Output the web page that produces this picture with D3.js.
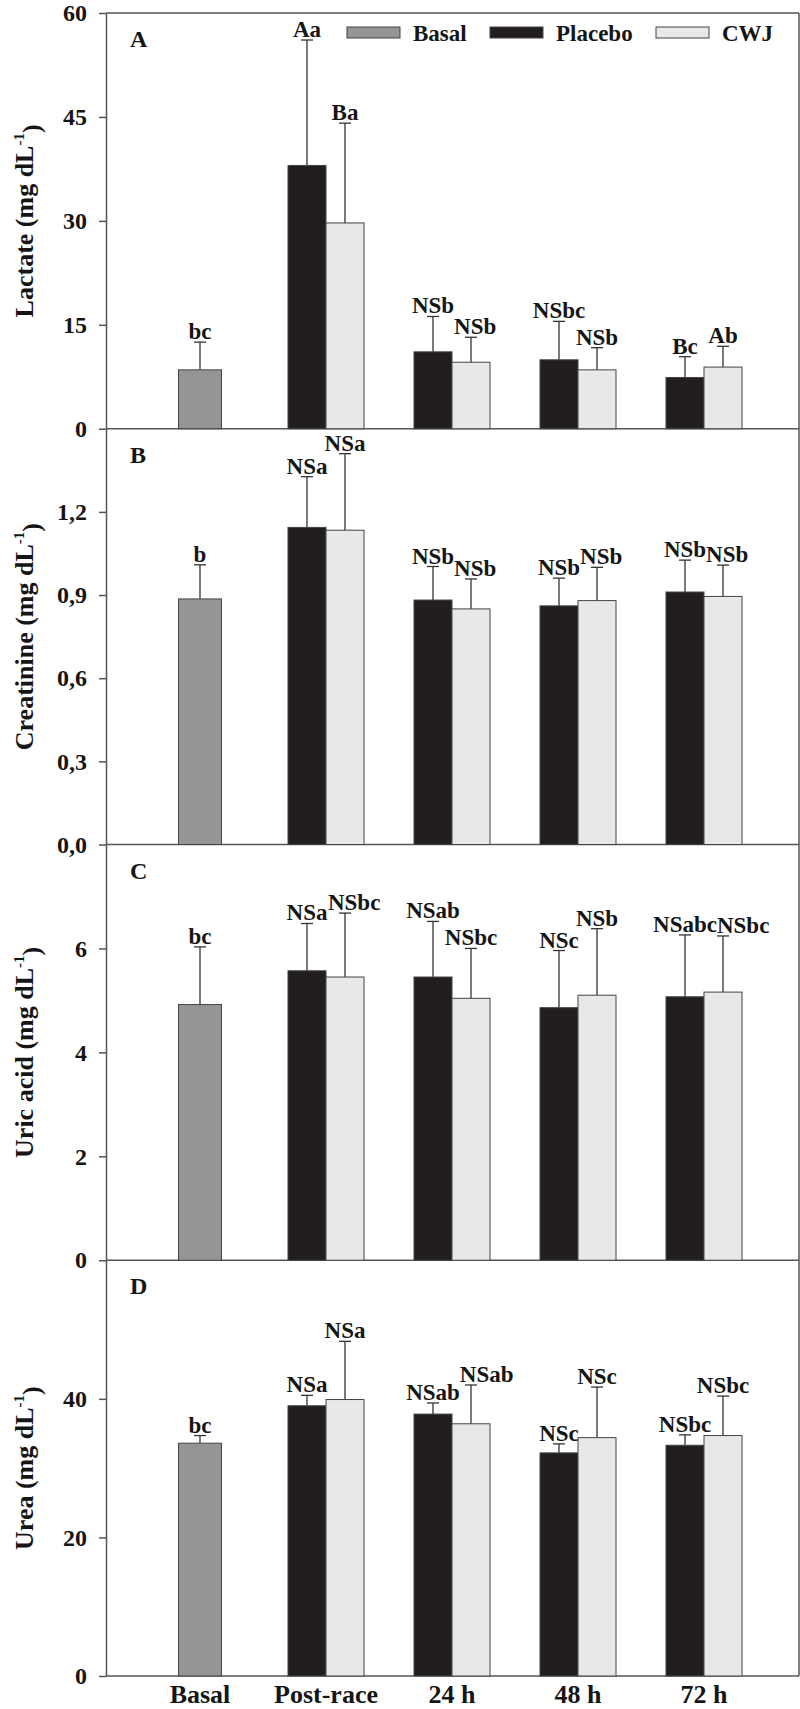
<!DOCTYPE html>
<html>
<head>
<meta charset="utf-8">
<script src="https://cdn.jsdelivr.net/npm/d3@7"></script>
<style>
  body { margin: 0; background: #fff; }
  text { font-family: "Liberation Serif", "Times New Roman", serif; font-weight: bold; fill: #151515; }
</style>
</head>
<body>
<div id="drawArea"></div>
<script>
// categories along x
var categories = ["Basal", "Post-race", "24 h", "48 h", "72 h"];
var groups = ["Post-race", "24 h", "48 h", "72 h"];
var legendNames = ["Basal", "Placebo", "CWJ"];

// panel A - lactate
var lactateBasal = 8.5, lactateBasalSd = 4.0, lactateBasalLab = "bc";
var lactatePlacebo = [38.0, 11.1, 9.95, 7.4];
var lactatePlaceboSd = [18.1, 5.1, 5.55, 3.0];
var lactatePlaceboLab = ["Aa", "NSb", "NSbc", "Bc"];
var lactateCwj = [29.7, 9.6, 8.5, 8.9];
var lactateCwjSd = [14.4, 3.6, 3.2, 3.0];
var lactateCwjLab = ["Ba", "NSb", "NSb", "Ab"];
var lactateTicks = [0, 15, 30, 45, 60];

// panel B - creatinine
var creatBasal = 0.886, creatBasalSd = 0.123, creatBasalLab = "b";
var creatPlacebo = [1.144, 0.882, 0.861, 0.911];
var creatPlaceboSd = [0.183, 0.121, 0.100, 0.115];
var creatPlaceboLab = ["NSa", "NSb", "NSb", "NSb"];
var creatCwj = [1.134, 0.85, 0.88, 0.895];
var creatCwjSd = [0.276, 0.108, 0.12, 0.113];
var creatCwjLab = ["NSa", "NSb", "NSb", "NSb"];
var creatTicks = [0, 0.3, 0.6, 0.9, 1.2];

// panel C - uric acid
var uricBasal = 4.92, uricBasalSd = 1.11, uricBasalLab = "bc";
var uricPlacebo = [5.57, 5.45, 4.86, 5.07];
var uricPlaceboSd = [0.91, 1.07, 1.10, 1.19];
var uricPlaceboLab = ["NSa", "NSab", "NSc", "NSabc"];
var uricCwj = [5.45, 5.04, 5.10, 5.16];
var uricCwjSd = [1.23, 0.96, 1.28, 1.08];
var uricCwjLab = ["NSbc", "NSbc", "NSb", "NSbc"];
var uricTicks = [0, 2, 4, 6];

// panel D - urea
var ureaBasal = 33.6, ureaBasalSd = 1.1, ureaBasalLab = "bc";
var ureaPlacebo = [39.0, 37.8, 32.2, 33.3];
var ureaPlaceboSd = [1.5, 1.6, 1.3, 1.5];
var ureaPlaceboLab = ["NSa", "NSab", "NSc", "NSbc"];
var ureaCwj = [39.9, 36.4, 34.4, 34.7];
var ureaCwjSd = [8.4, 5.6, 7.3, 5.7];
var ureaCwjLab = ["NSa", "NSab", "NSc", "NSbc"];
var ureaTicks = [0, 20, 40];

var panels = [
  {letter: "A", label: "Lactate (mg dL", max: 60, ticks: lactateTicks, comma: false,
   b: lactateBasal, bsd: lactateBasalSd, blab: lactateBasalLab,
   p: lactatePlacebo, psd: lactatePlaceboSd, plab: lactatePlaceboLab,
   c: lactateCwj, csd: lactateCwjSd, clab: lactateCwjLab},
  {letter: "B", label: "Creatinine (mg dL", max: 1.5, ticks: creatTicks, comma: true,
   b: creatBasal, bsd: creatBasalSd, blab: creatBasalLab,
   p: creatPlacebo, psd: creatPlaceboSd, plab: creatPlaceboLab,
   c: creatCwj, csd: creatCwjSd, clab: creatCwjLab},
  {letter: "C", label: "Uric acid (mg dL", max: 8, ticks: uricTicks, comma: false,
   b: uricBasal, bsd: uricBasalSd, blab: uricBasalLab,
   p: uricPlacebo, psd: uricPlaceboSd, plab: uricPlaceboLab,
   c: uricCwj, csd: uricCwjSd, clab: uricCwjLab},
  {letter: "D", label: "Urea (mg dL", max: 60, ticks: ureaTicks, comma: false,
   b: ureaBasal, bsd: ureaBasalSd, blab: ureaBasalLab,
   p: ureaPlacebo, psd: ureaPlaceboSd, plab: ureaPlaceboLab,
   c: ureaCwj, csd: ureaCwjSd, clab: ureaCwjLab}
];

var colBasal = "#959595", colPlacebo = "#221e1f", colCwj = "#e8e8e8";
var axisCol = "#555";

var left = 106, right = 799, top0 = 13, bottom = 1676;
var panelH = (bottom - top0) / panels.length;
var barW = 38, basalW = 43;

var svg = d3.select("#drawArea").append("svg")
  .attr("width", 800).attr("height", 1709);

var x = d3.scalePoint().domain(categories).range([200, 704]);

panels.forEach(function(pn, i) {
  var y0 = top0 + i * panelH, y1 = y0 + panelH;
  var y = d3.scaleLinear().domain([0, pn.max]).range([y1, y0]);
  var g = svg.append("g");

  // y axis
  var fmt = pn.comma ? function(d){ return d3.format(".1f")(d).replace(".", ","); } : d3.format("d");
  var ax = g.append("g")
    .attr("transform", "translate(" + left + ",0)")
    .call(d3.axisLeft(y).tickValues(pn.ticks).tickFormat(fmt).tickSize(7).tickPadding(12).tickSizeOuter(0))
    .attr("font-size", 24).attr("font-family", "Liberation Serif");
  ax.select(".domain").attr("stroke", axisCol).attr("stroke-width", 1.5);
  ax.selectAll(".tick line").attr("stroke", axisCol).attr("stroke-width", 1.5);
  ax.selectAll(".tick text").style("font-size", "24px").attr("fill", "#151515");

  // bottom line of panel
  g.append("line").attr("x1", left).attr("x2", right).attr("y1", y(0)).attr("y2", y(0))
    .attr("stroke", axisCol).attr("stroke-width", 1.5);

  // y label
  var lab = g.append("text")
    .attr("transform", "translate(33," + ((y0 + y1) / 2) + ") rotate(-90)")
    .attr("text-anchor", "middle").style("font-size", "26px");
  lab.append("tspan").text(pn.label);
  lab.append("tspan").text("-1").attr("dy", "-0.6em").style("font-size", "15px");
  lab.append("tspan").text(")").attr("dy", "0.6em").style("font-size", "26px");

  // panel letter
  g.append("text").attr("x", 130).attr("y", y0 + 34).style("font-size", "24px").text(pn.letter);

  // bars data
  var bars = [{cat: "Basal", x0: x("Basal") - basalW / 2, w: basalW, v: pn.b, sd: pn.bsd, lab: pn.blab, fill: colBasal, s: "b"}];
  groups.forEach(function(gr, j) {
    bars.push({cat: gr, x0: x(gr) - barW, w: barW, v: pn.p[j], sd: pn.psd[j], lab: pn.plab[j], fill: colPlacebo, s: "p"});
    bars.push({cat: gr, x0: x(gr), w: barW, v: pn.c[j], sd: pn.csd[j], lab: pn.clab[j], fill: colCwj, s: "c"});
  });

  // error bars (upper only)
  g.selectAll(".err").data(bars).enter().append("line")
    .attr("x1", function(d){ return d.x0 + d.w / 2; })
    .attr("x2", function(d){ return d.x0 + d.w / 2; })
    .attr("y1", function(d){ return y(d.v); })
    .attr("y2", function(d){ return y(d.v + d.sd); })
    .attr("stroke", "#333").attr("stroke-width", 1.3);
  g.selectAll(".cap").data(bars).enter().append("line")
    .attr("x1", function(d){ return d.x0 + d.w / 2 - 6; })
    .attr("x2", function(d){ return d.x0 + d.w / 2 + 6; })
    .attr("y1", function(d){ return y(d.v + d.sd); })
    .attr("y2", function(d){ return y(d.v + d.sd); })
    .attr("stroke", "#333").attr("stroke-width", 1.3);

  g.selectAll(".bar").data(bars).enter().append("rect")
    .attr("x", function(d){ return d.x0; })
    .attr("y", function(d){ return y(d.v); })
    .attr("width", function(d){ return d.w; })
    .attr("height", function(d){ return y(0) - y(d.v); })
    .attr("fill", function(d){ return d.fill; })
    .attr("stroke", "#444").attr("stroke-width", 1);

  var labs = g.selectAll(".lab").data(bars).enter().append("text")
    .attr("class", "lab")
    .attr("x", function(d){ return d.x0 + d.w / 2; })
    .attr("y", function(d){ return y(d.v + d.sd) - 3; })
    .attr("text-anchor", "middle").style("font-size", "23px")
    .text(function(d){ return d.lab; });

  // push a CWJ label right when it runs into the placebo label of its group
  groups.forEach(function(gr) {
    var pl = labs.filter(function(d){ return d.cat === gr && d.s === "p"; }).node();
    var cl = labs.filter(function(d){ return d.cat === gr && d.s === "c"; });
    var pb = pl.getBBox(), cb = cl.node().getBBox();
    var vOver = cb.y < pb.y + pb.height - 4 && cb.y + cb.height > pb.y + 4;
    if (vOver && cb.x < pb.x + pb.width) {
      cl.attr("x", +cl.attr("x") + (pb.x + pb.width - cb.x));
    }
  });
});

// frame: top and right
svg.append("line").attr("x1", left).attr("x2", right).attr("y1", top0).attr("y2", top0)
  .attr("stroke", axisCol).attr("stroke-width", 1.5);
svg.append("line").attr("x1", right).attr("x2", right).attr("y1", top0).attr("y2", bottom)
  .attr("stroke", axisCol).attr("stroke-width", 1.5);

// x labels
svg.selectAll(".xl").data(categories).enter().append("text")
  .attr("x", function(d){ return x(d); })
  .attr("y", 1703).attr("text-anchor", "middle").style("font-size", "26px")
  .text(function(d){ return d; });

// legend
var legX = [347, 490, 656];
var legFill = [colBasal, colPlacebo, colCwj];
var leg = svg.append("g");
leg.selectAll("rect").data(legendNames).enter().append("rect")
  .attr("x", function(d, i){ return legX[i]; }).attr("y", 27)
  .attr("width", 53).attr("height", 11)
  .attr("fill", function(d, i){ return legFill[i]; })
  .attr("stroke", "#444").attr("stroke-width", 1);
leg.selectAll("text").data(legendNames).enter().append("text")
  .attr("x", function(d, i){ return legX[i] + 66; }).attr("y", 41)
  .style("font-size", "23px")
  .text(function(d){ return d; });
</script>
</body>
</html>
